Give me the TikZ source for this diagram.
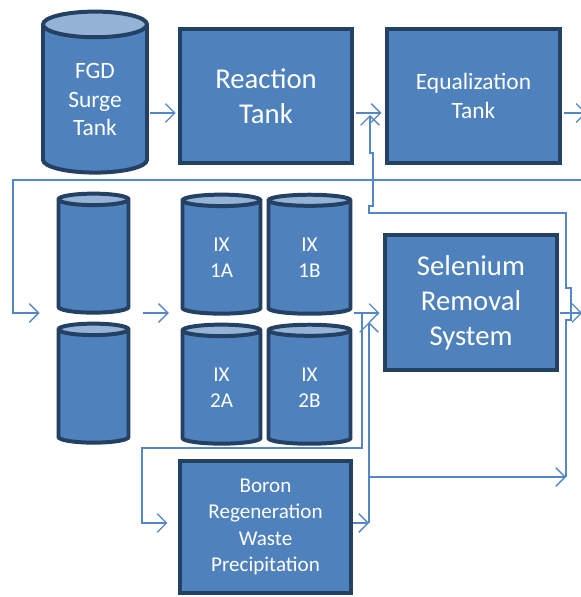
\documentclass[tikz,border=0pt]{standalone}
\usepackage{fontspec}
\setmainfont{Carlito}
\usetikzlibrary{shapes.geometric, arrows.meta, positioning, calc}
\definecolor{tankblue}{RGB}{79,129,189}
\definecolor{tankedge}{RGB}{36,64,98}
\definecolor{tanktop}{RGB}{149,179,215}
\definecolor{pipeblue}{RGB}{84,135,200}
\newcommand\pxu{0.03cm}

\tikzset{
  unitbox/.style={draw=tankedge, line width=3.4pt, fill=tankblue, text=white,
    align=center, inner sep=0pt},
  vessel/.style={cylinder, shape border rotate=90, draw=tankedge, line width=3.4pt,
    cylinder uses custom fill, cylinder body fill=tankblue, cylinder end fill=tanktop,
    text=white, align=center, inner sep=0pt},
  flow/.style={draw=pipeblue, line width=1.1pt, -{Straight Barb[length=8pt,width=16pt]}},
  bigfont/.style={font=\fontsize{24.5}{30}\selectfont},
  midfont/.style={font=\fontsize{20}{24}\selectfont},
  smallfont/.style={font=\fontsize{18}{22.5}\selectfont},
}

\begin{document}
\begin{tikzpicture}[x=0.03cm, y=-0.03cm]
\useasboundingbox (0,0) rectangle (580,597);

% tanks and units
\node[vessel, midfont, minimum width=104*\pxu, minimum height=161*\pxu, aspect=0.48] (fgd) at (95,99.5) {FGD\\Surge\\Tank};
\node[unitbox, bigfont, minimum width=172*\pxu, minimum height=134*\pxu] (react) at (266,96) {Reaction\\Tank};
\node[unitbox, midfont, minimum width=173*\pxu, minimum height=134*\pxu] (equal) at (473.5,96) {Equalization\\Tank};

\node[vessel, smallfont, minimum width=70*\pxu, minimum height=119*\pxu, aspect=0.5] (pre1) at (93.5,257) {\phantom{IX}\\\phantom{1A}};
\node[vessel, smallfont, minimum width=70*\pxu, minimum height=119*\pxu, aspect=0.5] (pre2) at (93.5,387) {\phantom{IX}\\\phantom{2A}};
\node[vessel, smallfont, minimum width=78*\pxu, minimum height=119*\pxu, aspect=0.5] (ix1a) at (221.5,258) {IX\\1A};
\node[vessel, smallfont, minimum width=82*\pxu, minimum height=119*\pxu, aspect=0.5] (ix1b) at (309.5,258) {IX\\1B};
\node[vessel, smallfont, minimum width=78*\pxu, minimum height=119*\pxu, aspect=0.5] (ix2a) at (221.5,388) {IX\\2A};
\node[vessel, smallfont, minimum width=82*\pxu, minimum height=119*\pxu, aspect=0.5] (ix2b) at (309.5,388) {IX\\2B};

\node[unitbox, bigfont, minimum width=172*\pxu, minimum height=135*\pxu] (sel) at (471,302.5) {Selenium\\Removal\\System};
\node[unitbox, smallfont, minimum width=171*\pxu, minimum height=132*\pxu] (boron) at (265.5,527) {Boron\\Regeneration\\Waste\\Precipitation};

% rows and junctions
\coordinate (rowA) at (0,113);
\coordinate (rowB) at (0,313);
\coordinate (rowD) at (0,523);
\coordinate (loopR) at (582,180);
\coordinate (loopL) at (13,313);
\coordinate (split) at (362,313);
\coordinate (boronIn) at (142,523);
\coordinate (boronOut) at (369,523);
\coordinate (bypass) at (369,477);
\coordinate (riser) at (566,477);

% main line
\draw[flow] ([xshift=1pt]fgd.east |- rowA) -- ([xshift=-2pt]react.west |- rowA);
\draw[flow] ([xshift=2pt]react.east |- rowA) -- ([xshift=-3pt]equal.west |- rowA);
\draw[flow] ([xshift=2pt]equal.east |- rowA) -- ++(22,0);
\draw[flow] (loopR) -| (loopL) -- ([xshift=-14.5pt]pre1.west |- rowB);
\draw[flow] ([xshift=11pt]pre1.east |- rowB) -- ([xshift=-10pt]ix1a.west |- rowB);
\draw[flow] ([xshift=1pt]ix1b.east |- rowB) -- ([xshift=-3pt]sel.west |- rowB);
\draw[flow] ([xshift=1pt]sel.east |- rowB) -- ++(22,0);

% regeneration waste
\draw[flow] (split) -- (362,448) -| (boronIn) -- ([xshift=-9pt]boron.west |- rowD);
\draw[flow] (boron.east |- rowD) -- (boronOut);
\draw[flow] (boronOut) -- (369,322);
\draw[flow] (bypass) -- (riser);
\draw[flow] (riser) -- (566,320) -- (571,320) -- (571,288) -- (566,288) -- (566,213)
  -- (369,213) -- (369,206) -- (373,206) -- (373,153) -- (370,153) -- (370,115);
\end{tikzpicture}
\end{document}
